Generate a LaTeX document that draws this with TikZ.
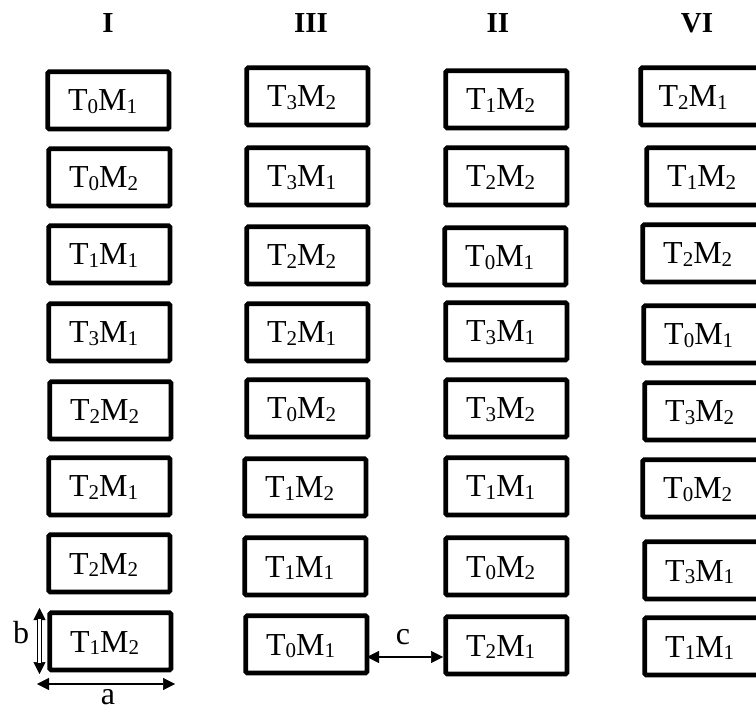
\documentclass[tikz,border=0pt]{standalone}
\usepackage{fontspec}
\setmainfont{Liberation Serif}
\usetikzlibrary{arrows.meta,calc}
\newcommand{\sbs}[1]{\raisebox{-2.5pt}{\fontsize{21}{21}\selectfont #1}}
\newcommand{\TMx}[2]{T\sbs{#1}M\sbs{#2}}
\tikzset{
  cell/.style={draw, line width=4.8pt, rounded corners=1.5pt, minimum width=121.2pt,
    minimum height=57.2pt, inner sep=0pt, anchor=north west},
  lbl/.style={inner sep=0pt, font=\fontsize{32}{38}\selectfont},
  hdr/.style={inner sep=0pt, font=\fontsize{29}{34}\selectfont\bfseries},
  dimtxt/.style={inner sep=0pt, font=\fontsize{32}{38}\selectfont},
  dimarr/.style={line width=1.5pt, {Triangle[length=12pt,width=12pt,line width=0.5pt]}-{Triangle[length=12pt,width=12pt,line width=0.5pt]}},
}
\newcommand{\cellat}[6]{%
  \node[cell] (#1) at (#2+2.4,#3+2.4) {};
  \node[lbl, anchor=base west] (#1t) at ($(#1.north west)+(#6,41.6)$) {\TMx{#4}{#5}};
}
\begin{document}
\begin{tikzpicture}[x=1pt,y=-1pt]
\useasboundingbox (0,0) rectangle (756,711);
\clip (0,0) rectangle (756,711);
% headers
\node[hdr] (hI) at (108,23) {I};
\node[hdr] (hIII) at (311,23) {III};
\node[hdr] (hII) at (498,23) {II};
\node[hdr] (hVI) at (697,23) {VI};
% column I
\cellat{I1}{43}{67}{0}{1}{22.6}
\cellat{I2}{44}{144}{0}{2}{22.6}
\cellat{I3}{44}{221}{1}{1}{22.6}
\cellat{I4}{44}{299}{3}{1}{22.6}
\cellat{I5}{45}{377}{2}{2}{22.6}
\cellat{I6}{44}{453}{2}{1}{22.6}
\cellat{I7}{44}{530}{2}{2}{22.6}
\cellat{I8}{45}{608}{1}{2}{22.6}
% column III
\cellat{III1}{242}{63}{3}{2}{22.6}
\cellat{III2}{242}{143}{3}{1}{22.6}
\cellat{III3}{242}{222}{2}{2}{22.6}
\cellat{III4}{242}{299}{2}{1}{22.6}
\cellat{III5}{242}{375}{0}{2}{22.6}
\cellat{III6}{240}{454}{1}{2}{22.6}
\cellat{III7}{240}{533}{1}{1}{22.6}
\cellat{III8}{241}{611}{0}{1}{22.6}
% column II
\cellat{II1}{441}{66}{1}{2}{22.6}
\cellat{II2}{441}{143}{2}{2}{22.6}
\cellat{II3}{440}{223}{0}{1}{22.6}
\cellat{II4}{441}{298}{3}{1}{22.6}
\cellat{II5}{441}{375}{3}{2}{22.6}
\cellat{II6}{441}{453}{1}{1}{22.6}
\cellat{II7}{441}{533}{0}{2}{22.6}
\cellat{II8}{441}{612}{2}{1}{22.6}
% column VI
\cellat{VI1}{636}{63}{2}{1}{20}
\cellat{VI2}{642}{143}{1}{2}{22.6}
\cellat{VI3}{638}{220}{2}{2}{22.6}
\cellat{VI4}{639}{301}{0}{1}{22.6}
\cellat{VI5}{640}{378}{3}{2}{22.6}
\cellat{VI6}{638}{455}{0}{2}{22.6}
\cellat{VI7}{640}{537}{3}{1}{22.6}
\cellat{VI8}{640}{613}{1}{1}{22.6}
% dimension b
\coordinate (bt) at (39.5,608);
\coordinate (bb) at (39.5,674);
\draw[line width=5.5pt, {Triangle[length=12pt,width=12pt,line width=0.5pt]}-{Triangle[length=12pt,width=12pt,line width=0.5pt]}] (bt) -- (bb);
\draw[white, line width=3pt, shorten <=11pt, shorten >=11pt] (bt) -- (bb);
\node[dimtxt] (lb) at (21,633) {b};
% dimension a
\coordinate (al) at (37,684);
\coordinate (ar) at (175,684);
\draw[dimarr] (al) -- (ar);
\node[dimtxt] (la) at (108,697) {a};
% dimension c
\coordinate (cl) at (367,657);
\coordinate (cr) at (443,657);
\draw[dimarr] (cl) -- (cr);
\node[dimtxt] (lc) at (403,637) {c};
\end{tikzpicture}
\end{document}
